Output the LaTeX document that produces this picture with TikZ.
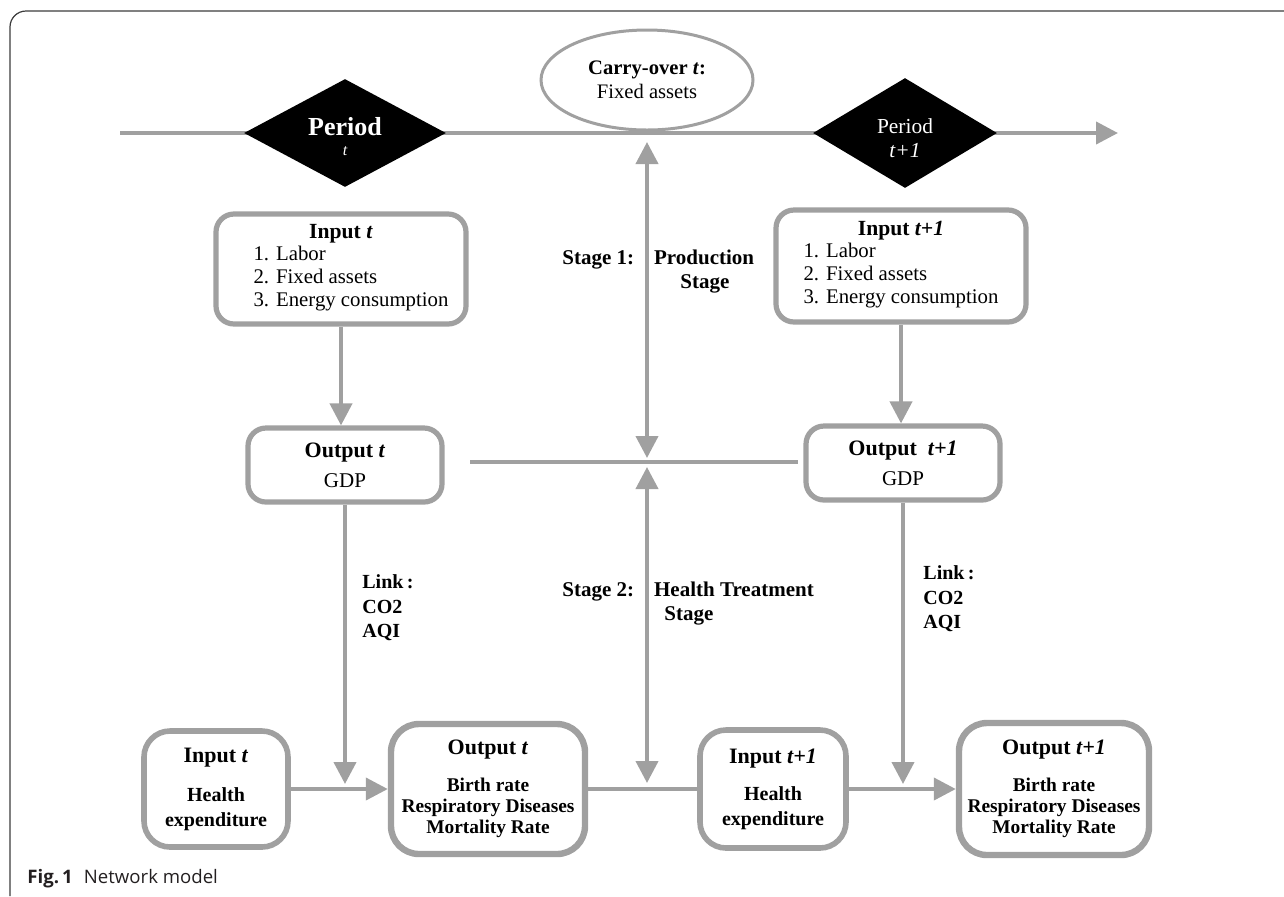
\documentclass[tikz,border=0pt]{standalone}
\usepackage{fontspec}
\setmainfont{Liberation Serif}
\newfontfamily\capfont{Open Sans}
\usetikzlibrary{shapes.geometric,arrows.meta}
\definecolor{lg}{RGB}{160,160,160}
\definecolor{fr}{RGB}{60,60,60}
\definecolor{captxt}{RGB}{35,31,32}
\begin{document}
\begin{tikzpicture}[x=0.5pt,y=-0.5pt,
  conn/.style={draw=lg,line width=2pt},
  arr/.style={conn,-{Triangle[length=11pt,width=11pt]}},
  darr/.style={conn,{Triangle[length=11pt,width=11pt]}-{Triangle[length=11pt,width=11pt]}},
  box/.style={draw=lg,line width=2.6pt,rounded corners=9pt,fill=white,align=center,inner sep=0pt},
  bbox/.style={box,line width=2.8pt,rounded corners=13pt,font=\fontsize{10}{12.5}\selectfont\bfseries},
  obox/.style={box,line width=3.2pt,rounded corners=14pt,font=\fontsize{9.7}{10.7}\selectfont\bfseries},
  dia/.style={diamond,fill=black,inner sep=0pt},
  wt/.style={text=white,inner sep=0pt},
  lbl/.style={font=\fontsize{10}{12.25}\selectfont\bfseries,align=left,inner sep=0pt},
  stg/.style={font=\fontsize{10.5}{12}\selectfont\bfseries,align=left,inner sep=0pt}
]
\useasboundingbox (0,0) rectangle (1284,896);
% frame
\draw[fr,line width=0.6pt,rounded corners=8pt] (1284,11) -- (10,11) -- (10,896);

% main time line
\coordinate (ls) at (120,133);
\coordinate (le) at (1118,133);
\draw[arr] (ls) -- (le);

% period diamonds
\node[dia,minimum width=101pt,minimum height=54pt] (p1) at (345,133) {};
\node[dia,minimum width=92pt,minimum height=55pt] (p2) at (905,133) {};
\node[wt] (p1a) at (345,127) {\fontsize{13}{14}\selectfont\bfseries Period};
\node[wt] (p1b) at (345,151) {\fontsize{8}{9}\selectfont\itshape t};
\node[wt] (p2a) at (905,126) {\fontsize{10.7}{12}\selectfont Period};
\node[wt] (p2b) at (905,151) {\fontsize{10.7}{12}\selectfont\itshape t+1};

% carry-over ellipse
\node[ellipse,draw=lg,line width=1.5pt,fill=white,minimum width=106pt,minimum height=50pt,inner sep=0pt,align=center,font=\fontsize{10.3}{12}\selectfont] (co) at (647,80)
  {\textbf{Carry-over \textit{t}:}\\Fixed assets};

% stage double arrows and middle line
\coordinate (s1t) at (647,142);
\coordinate (s1b) at (647,458);
\coordinate (s2t) at (647,467);
\coordinate (s2b) at (647,783);
\draw[darr] (s1t) -- (s1b);
\draw[darr] (s2t) -- (s2b);
\coordinate (ml) at (470,462);
\coordinate (mr) at (798,462);
\draw[conn] (ml) -- (mr);

\node[stg,anchor=west] (st1) at (562,272) {Stage 1:\hspace{10pt}Production\\\hspace*{59pt}Stage};
\node[stg,anchor=west] (st2) at (562,604) {Stage 2:\hspace{10pt}Health Treatment\\\hspace*{51pt}Stage};

% top boxes
\node[box,minimum width=125pt,minimum height=55pt] (in1) at (341,269)
  {\fontsize{10.8}{13}\selectfont\textbf{Input \textit{t}}\\[-1pt]\fontsize{10.4}{11.5}\selectfont
   \hspace*{10pt}\begin{tabular}[t]{@{}l@{}}1. Labor\\2. Fixed assets\\3. Energy consumption\end{tabular}};
\node[box,minimum width=125pt,minimum height=56pt] (in2) at (901,266)
  {\fontsize{10.8}{13}\selectfont\textbf{Input \textit{t+1}}\\[-1pt]\fontsize{10.4}{11.5}\selectfont
   \begin{tabular}[t]{@{}l@{}}1. Labor\\2. Fixed assets\\3. Energy consumption\end{tabular}};
\node[box,minimum width=97pt,minimum height=37pt,font=\fontsize{10.5}{13}\selectfont] (out1) at (345,465)
  {{\fontsize{11}{13}\selectfont\textbf{Output \textit{t}}}\\[2pt]GDP};
\node[box,minimum width=97pt,minimum height=37pt,font=\fontsize{10.5}{13}\selectfont] (out2) at (903,463)
  {{\fontsize{11}{13}\selectfont\textbf{Output\ \ \textit{t+1}}}\\[2pt]GDP};

\draw[arr] (in1.south) -- (in1.south |- out1.north);
\draw[arr] (in2.south) -- (in2.south |- out2.north);

% bottom boxes
\node[bbox,minimum width=72pt,minimum height=58pt] (hin1) at (216,789)
  {{\fontsize{11}{13}\selectfont Input \textit{t}}\\[7pt]Health\\expenditure};
\node[obox,minimum width=97pt,minimum height=65pt] (hout1) at (488,789)
  {{\fontsize{11}{13}\selectfont Output \textit{t}}\\[7.5pt]Birth rate\\Respiratory Diseases\\Mortality Rate};
\node[bbox,minimum width=73pt,minimum height=59pt] (hin2) at (773,789)
  {{\fontsize{11}{13}\selectfont Input \textit{t+1}}\\[6pt]Health\\expenditure};
\node[obox,minimum width=95pt,minimum height=66pt] (hout2) at (1054,789)
  {{\fontsize{11}{13}\selectfont Output \textit{t+1}}\\[7.5pt]Birth rate\\Respiratory Diseases\\Mortality Rate};

\draw[arr] (hin1.east) -- (hout1.west);
\draw[conn] (hout1.east) -- (hin2.west);
\draw[arr] (hin2.east) -- (hout2.west);

% link arrows
\coordinate (jl) at (346,784);
\coordinate (jr) at (903,784);
\draw[arr] (out1.south) -- (out1.south |- jl);
\draw[arr] (out2.south) -- (out2.south |- jr);
\node[lbl,anchor=west] (lk1) at (362,608) {Link\,:\\CO2\\AQI};
\node[lbl,anchor=west] (lk2) at (923,599) {Link\,:\\CO2\\AQI};

% caption
\node[anchor=west,inner sep=0pt,text=captxt,font=\capfont\fontsize{9.3}{11}\selectfont] (cap) at (27,879)
  {\textbf{Fig.\,1}\hspace{0.6em}Network model};
\end{tikzpicture}
\end{document}
